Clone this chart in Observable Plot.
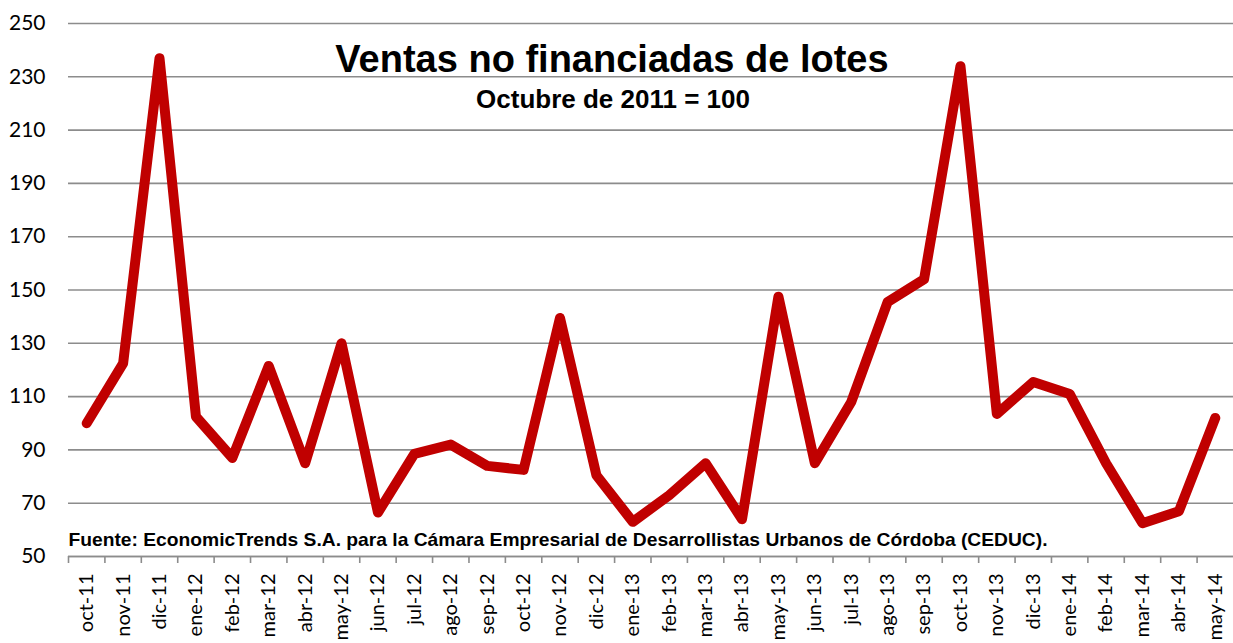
<!DOCTYPE html>
<html><head><meta charset="utf-8">
<script src="https://cdn.jsdelivr.net/npm/d3@7"></script>
<script src="https://cdn.jsdelivr.net/npm/@observablehq/plot@0.6"></script>
<style>body{margin:0;background:#fff} svg{display:block}</style>
</head><body><div id="chart"></div>
<script>
const months = ["oct-11","nov-11","dic-11","ene-12","feb-12","mar-12","abr-12","may-12","jun-12","jul-12","ago-12","sep-12","oct-12","nov-12","dic-12","ene-13","feb-13","mar-13","abr-13","may-13","jun-13","jul-13","ago-13","sep-13","oct-13","nov-13","dic-13","ene-14","feb-14","mar-14","abr-14","may-14"];
const values = [100,122.5,237,102.5,87,121.5,85,130,66.5,88.5,92,84,82.5,139.5,80.5,63,73,85,64,147.5,85,108,145.5,154,234,103.5,115.5,111,85,62.5,67,102];
const yTicks = [50,70,90,110,130,150,170,190,210,230,250];
const title = "Ventas no financiadas de lotes";
const subtitle = "Octubre de 2011 = 100";
const source = "Fuente: EconomicTrends S.A. para la Cámara Empresarial de Desarrollistas Urbanos de Córdoba (CEDUC).";

const W = 1233, H = 643, mL = 68, mR = 0;
const bw = (W - mL - mR) / months.length;
const data = months.map((m, i) => ({month: m, value: values[i]}));
const grey = "#8c8c8c";

const chart = Plot.plot({
  width: W, height: H,
  marginLeft: mL, marginRight: mR, marginTop: 23, marginBottom: 87,
  style: {fontFamily: "Lato, sans-serif", background: "white", color: "#000"},
  x: {type: "band", domain: months, padding: 0, round: false},
  y: {domain: [50, 250]},
  marks: [
    Plot.gridY(yTicks, {stroke: grey, strokeOpacity: 1, strokeWidth: 1.6}),
    Plot.ruleY([50], {stroke: grey, strokeWidth: 1.6}),
    Plot.axisY(yTicks, {tickSize: 0, tickPadding: 23, fontSize: 21, label: null}),
    Plot.axisX({tickSize: 0, tickPadding: 17, tickRotate: -90, fontSize: 20, label: null}),
    Plot.axisX({tickSize: 7, text: null, label: null, dx: -bw / 2, stroke: grey, strokeWidth: 1.6}),
    Plot.line(data, {x: "month", y: "value", stroke: "#C00000", strokeWidth: 10, strokeLinejoin: "round", strokeLinecap: "round"}),
    Plot.text([title], {frameAnchor: "top", lineAnchor: "bottom", dy: 48, dx: -39, fontSize: 38, fontWeight: "bold", fontFamily: "Liberation Sans, Arial, sans-serif", fill: "#000"}),
    Plot.text([subtitle], {frameAnchor: "top", lineAnchor: "bottom", dy: 84, dx: -38, fontSize: 26, fontWeight: "bold", fontFamily: "Liberation Sans, Arial, sans-serif", fill: "#000", className: "subt"}),
    Plot.text([source], {frameAnchor: "bottom-left", textAnchor: "start", lineAnchor: "bottom", dy: -11, fontSize: 19, fontWeight: "bold", fontFamily: "Liberation Sans, Arial, sans-serif", fill: "#000", className: "src"})
  ]
});
document.getElementById("chart").append(chart);
const srcText = chart.querySelector(".src text");
if (srcText) {
  srcText.setAttribute("textLength", 979);
  srcText.setAttribute("lengthAdjust", "spacingAndGlyphs");
}
</script>
</body></html>
